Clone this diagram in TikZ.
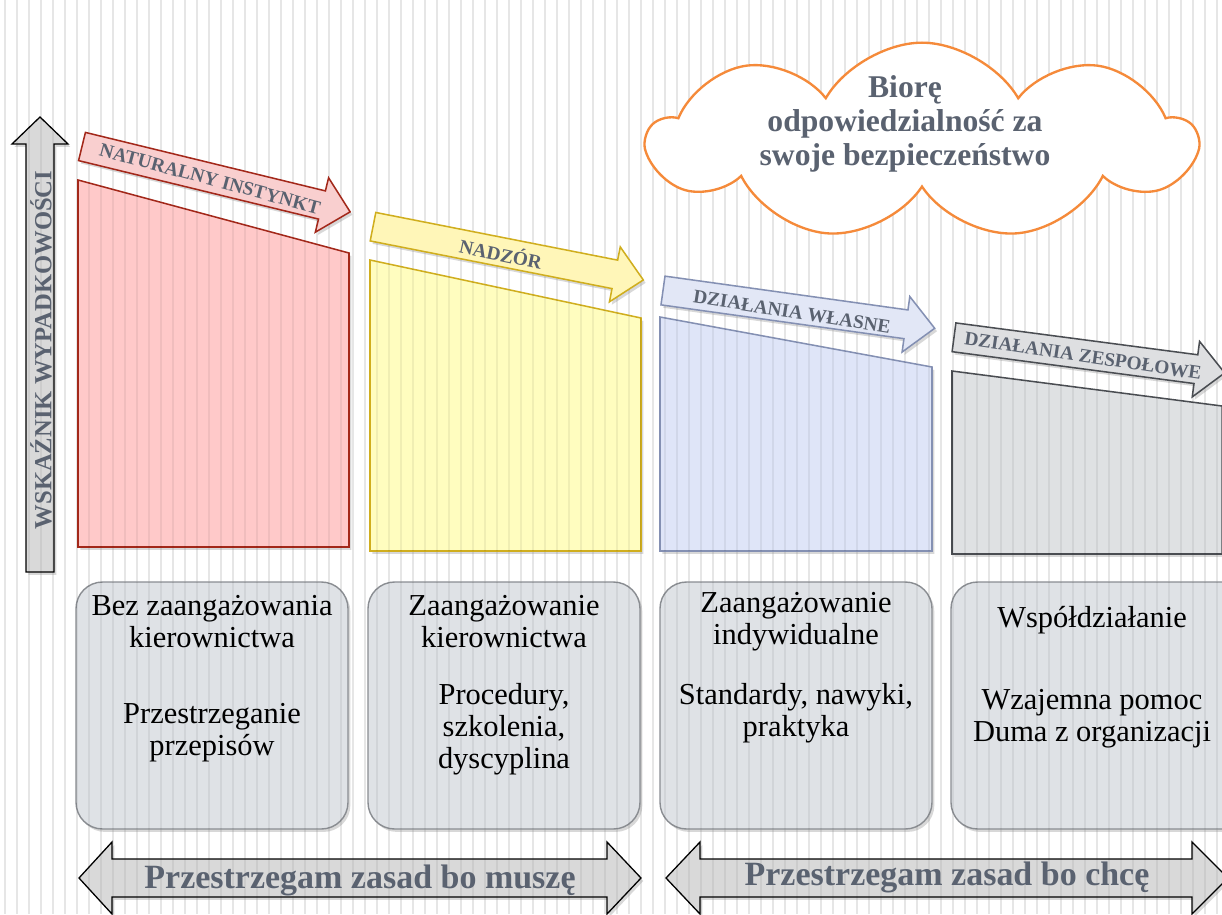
\documentclass[tikz,border=0pt]{standalone}
\usepackage{fontspec}
\setmainfont{Liberation Serif}
\usetikzlibrary{shapes.symbols,shadows}
\definecolor{stripecol}{HTML}{E6E6E6}
\definecolor{headgray}{HTML}{5A6270}
\definecolor{redfill}{HTML}{FFC9C9}
\definecolor{redline}{HTML}{A3281A}
\definecolor{redarrow}{HTML}{F9CFCF}
\definecolor{yelfill}{HTML}{FFFDBF}
\definecolor{yelline}{HTML}{D0AE1E}
\definecolor{yelarrow}{HTML}{FFF6B8}
\definecolor{bluefill}{HTML}{DFE5F8}
\definecolor{blueline}{HTML}{8490B3}
\definecolor{bluearrow}{HTML}{E2E7F6}
\definecolor{grayfill}{HTML}{DFE1E3}
\definecolor{grayline}{HTML}{4A4D52}
\definecolor{grayarrow}{HTML}{DEDFE1}
\definecolor{boxfill}{HTML}{DFE2E6}
\definecolor{boxline}{HTML}{8A8D92}
\definecolor{cloudorange}{HTML}{F58A3A}
\definecolor{axisfill}{HTML}{D9D9D9}
\newcommand{\StripesIn}[1]{%
  \begin{scope}
    \clip #1;
    \foreach \k in {0,...,101}{
      \pgfmathsetmacro{\xx}{5+12*\k}
      \ifodd\k \def\lw{1.6pt}\else\def\lw{0.9pt}\fi
      \draw[black, opacity=0.06, line width=\lw] (\xx,0) -- (\xx,914);
    }
  \end{scope}}
\newcommand{\SlantArrow}[4]{%
  \begin{scope}[shift={#2}, rotate=#3]
    \draw[#1] (0,-14.5) -- ({#4-29},-14.5) -- ({#4-29},-28) -- (#4,0) -- ({#4-29},28) -- ({#4-29},14.5) -- (0,14.5) -- cycle;
  \end{scope}}
\tikzset{
  shade/.style={drop shadow={opacity=0.3, shadow xshift=2pt, shadow yshift=-2.5pt}},
  colbox/.style={line width=1.3pt, shade},
  sla/.style={line width=1.3pt, shade},
  lab/.style={font=\bfseries\fontsize{16.5}{18}\selectfont, text=headgray, inner sep=0pt},
  infobox/.style={rectangle, rounded corners=0.8cm, draw=boxline, fill=boxfill, line width=1.2pt,
    minimum width=8.16cm, minimum height=7.41cm, shade},
  infotext/.style={align=center, font=\fontsize{26}{27.3}\selectfont, text=black, inner sep=0pt},
  dbl/.style={draw=black, fill=axisfill, line width=1.1pt, shade},
  bigtext/.style={font=\bfseries\fontsize{29}{31}\selectfont, text=headgray, inner sep=0pt},
}
\begin{document}
\begin{tikzpicture}[x=0.03cm, y=-0.03cm]
\useasboundingbox (0,0) rectangle (1222,914);
\clip (0,0) rectangle (1222,914);
\fill[white] (0,0) rectangle (1222,914);
% background stripes
\foreach \k in {0,...,101}{
  \pgfmathsetmacro{\xx}{5+12*\k}
  \ifodd\k \def\lw{1.6pt}\else\def\lw{0.9pt}\fi
  \draw[stripecol, line width=\lw] (\xx,0) -- (\xx,914);
}
% axis arrow
\draw[dbl] (26,572) -- (26,144) -- (12,144) -- (40,117) -- (68,144) -- (54,144) -- (54,572) -- cycle;
\StripesIn{(26,572) -- (26,144) -- (12,144) -- (40,117) -- (68,144) -- (54,144) -- (54,572) -- cycle}
\node[font=\bfseries\fontsize{21}{22}\selectfont, text=headgray, rotate=90, inner sep=0pt] (axislab) at (41,350) {WSKAŹNIK WYPADKOWOŚCI};
% columns
\draw[colbox, draw=redline, fill=redfill] (78,180) -- (349,253) -- (349,547) -- (78,547) -- cycle;
\StripesIn{(78,180) -- (349,253) -- (349,547) -- (78,547) -- cycle}
\draw[colbox, draw=yelline, fill=yelfill] (370,260) -- (641,318) -- (641,551) -- (370,551) -- cycle;
\StripesIn{(370,260) -- (641,318) -- (641,551) -- (370,551) -- cycle}
\draw[colbox, draw=blueline, fill=bluefill] (660,317) -- (932,367) -- (932,551) -- (660,551) -- cycle;
\StripesIn{(660,317) -- (932,367) -- (932,551) -- (660,551) -- cycle}
\draw[colbox, draw=grayline, fill=grayfill] (952,371) -- (1222,406) -- (1222,554) -- (952,554) -- cycle;
\StripesIn{(952,371) -- (1222,406) -- (1222,554) -- (952,554) -- cycle}
% slanted arrows
\SlantArrow{sla, draw=redline, fill=redarrow}{(82,146.5)}{-13.7}{276}
\SlantArrow{sla, draw=yelline, fill=yelarrow}{(373,226.7)}{-11.15}{275.5}
\SlantArrow{sla, draw=blueline, fill=bluearrow}{(663,290.5)}{-7.92}{274.3}
\SlantArrow{sla, draw=grayline, fill=grayarrow}{(954,337.3)}{-7.5}{273}
\node[lab, rotate=-15] (l1) at (210,179) {NATURALNY INSTYNKT};
\node[lab, rotate=-12] (l2) at (501,253) {NADZÓR};
\node[lab, rotate=-9] (l3) at (792,312) {DZIAŁANIA WŁASNE};
\node[lab, rotate=-8.5] (l4) at (1083,356) {DZIAŁANIA ZESPOŁOWE};
% cloud
\node[cloud, draw=cloudorange, fill=white, line width=2pt, cloud puffs=9, cloud puff arc=120,
  aspect=2.7, minimum width=16.4cm, minimum height=5.9cm, inner sep=0pt] (cloud) at (922,141) {};
\node[align=center, font=\bfseries\fontsize{27}{29}\selectfont, text=headgray, inner sep=0pt] (cloudtext) at (905,124)
  {Biorę\\odpowiedzialność za\\swoje bezpieczeństwo};
% info boxes
\node[infobox] (b1) at (212,705.5) {};
\node[infobox] (b2) at (504,705.5) {};
\node[infobox] (b3) at (796,705.5) {};
\node[infobox, minimum width=9cm] (b4) at (1101,705.5) {};
\StripesIn{[rounded corners=0.8cm] (76,582) rectangle (348,829)}
\StripesIn{[rounded corners=0.8cm] (368,582) rectangle (640,829)}
\StripesIn{[rounded corners=0.8cm] (660,582) rectangle (932,829)}
\StripesIn{[rounded corners=0.8cm] (951,582) rectangle (1251,829)}
\node[infotext] (t1a) at (212,622) {Bez zaangażowania\\kierownictwa};
\node[infotext] (t1b) at (212,733) {Przestrzeganie\\przepisów};
\node[infotext] (t2a) at (504,622) {Zaangażowanie\\kierownictwa};
\node[infotext] (t2b) at (504,729) {Procedury,\\szkolenia,\\dyscyplina};
\node[infotext] (t3a) at (796,622) {Zaangażowanie\\indywidualne};
\node[infotext] (t3b) at (796,713) {Standardy, nawyki,\\praktyka};
\node[infotext] (t4a) at (1092,620) {Współdziałanie};
\node[infotext] (t4b) at (1092,719) {Wzajemna pomoc\\Duma z organizacji};
% bottom double arrows
\draw[dbl] (79,878) -- (112,842) -- (112,859) -- (607,859) -- (607,842) -- (641,878) -- (607,914) -- (607,897) -- (112,897) -- (112,914) -- cycle;
\StripesIn{(79,878) -- (112,842) -- (112,859) -- (607,859) -- (607,842) -- (641,878) -- (607,914) -- (607,897) -- (112,897) -- (112,914) -- cycle}
\draw[dbl] (666,878) -- (700,842) -- (700,859) -- (1192,859) -- (1192,842) -- (1228,878) -- (1192,914) -- (1192,897) -- (700,897) -- (700,914) -- cycle;
\StripesIn{(666,878) -- (700,842) -- (700,859) -- (1192,859) -- (1192,842) -- (1228,878) -- (1192,914) -- (1192,897) -- (700,897) -- (700,914) -- cycle}
\node[bigtext] (must) at (360,880) {Przestrzegam zasad bo muszę};
\node[bigtext] (want) at (947,877) {Przestrzegam zasad bo chcę};
\end{tikzpicture}
\end{document}
